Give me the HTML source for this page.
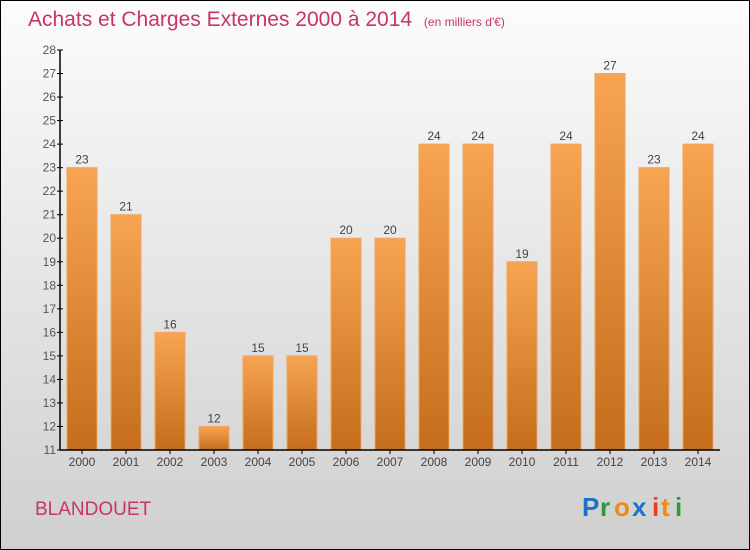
<!DOCTYPE html>
<html><head><meta charset="utf-8"><style>
body{margin:0}
#c{width:750px;height:550px;position:relative;box-sizing:border-box;border:1px solid #000;background:linear-gradient(#fcfcfc,#cfcfcf);font-family:"Liberation Sans",sans-serif;overflow:hidden}
</style></head><body>
<div id="c">
<svg width="750" height="550" style="position:absolute;left:-1px;top:-1px">
<defs><linearGradient id="g" x1="0" y1="0" x2="0" y2="1"><stop offset="0" stop-color="#f7a552"/><stop offset="1" stop-color="#c56d1b"/></linearGradient></defs>
<text x="28" y="26" font-size="21" fill="#c8365f">Achats et Charges Externes 2000 à 2014 <tspan font-size="12" dx="6">(en milliers d'€)</tspan></text>
<g id="plot"></g>
<text x="35" y="515" font-size="19" fill="#c8365f">BLANDOUET</text>
<g font-size="26" font-family="Liberation Sans" font-weight="bold">
<text x="582" y="516" fill="#1a73c8">P</text><text x="600" y="516" fill="#2a9a3a">r</text><text x="614" y="516" fill="#f08a10">o</text><text x="632" y="516" fill="#1a73c8">x</text><text x="652" y="516" fill="#e8401a">i</text><text x="661" y="516" fill="#f08a10">t</text><text x="675" y="516" fill="#2a9a3a">i</text></g>
</svg>
</div>
<script>
const categories=["2000","2001","2002","2003","2004","2005","2006","2007","2008","2009","2010","2011","2012","2013","2014"];
const values=[23,21,16,12,15,15,20,20,24,24,19,24,27,23,24];
const yTicks=[11,12,13,14,15,16,17,18,19,20,21,22,23,24,25,26,27,28];
const NS="http://www.w3.org/2000/svg";
const g=document.getElementById('plot');
const x0=60,x1=720,yTop=50,yBot=450,yMin=11,yMax=28;
const band=(x1-x0)/categories.length;
const y=v=>yBot-(v-yMin)/(yMax-yMin)*(yBot-yTop);
const xc=i=>x0+band*(i+0.5);
function mk(t,a,txt){const e=document.createElementNS(NS,t);for(const k in a)e.setAttribute(k,a[k]);if(txt!=null)e.textContent=txt;g.appendChild(e);return e;}
values.forEach((v,i)=>{
 const r=mk('rect',{x:xc(i)-15,y:y(v),width:30,height:yBot-y(v),fill:'url(#g)',stroke:'#f2a560','stroke-width':1});
 
 
 const t=mk('text',{x:xc(i),y:y(v)-4,'text-anchor':'middle','font-size':12,fill:'#444'},String(v));
 
 
 const xl=mk('text',{x:xc(i),y:466,'text-anchor':'middle','font-size':12,fill:'#444'},categories[i]);
 
 
 mk('line',{x1:xc(i),x2:xc(i),y1:yBot,y2:yBot+4,stroke:'#000'});
});
yTicks.forEach(t=>{
 mk('line',{x1:x0-3,x2:x0+3,y1:y(t),y2:y(t),stroke:'#000'});
 const l=mk('text',{x:x0-4,y:y(t)+4,'text-anchor':'end','font-size':12,fill:'#555'},String(t));
 
 
});
const ya=mk('line',{x1:x0,x2:x0,y1:yTop,y2:yBot,stroke:'#000','stroke-width':1.5});


const xa=mk('line',{x1:x0,x2:x1,y1:yBot,y2:yBot,stroke:'#000','stroke-width':1.5});


</script>
</body></html>
